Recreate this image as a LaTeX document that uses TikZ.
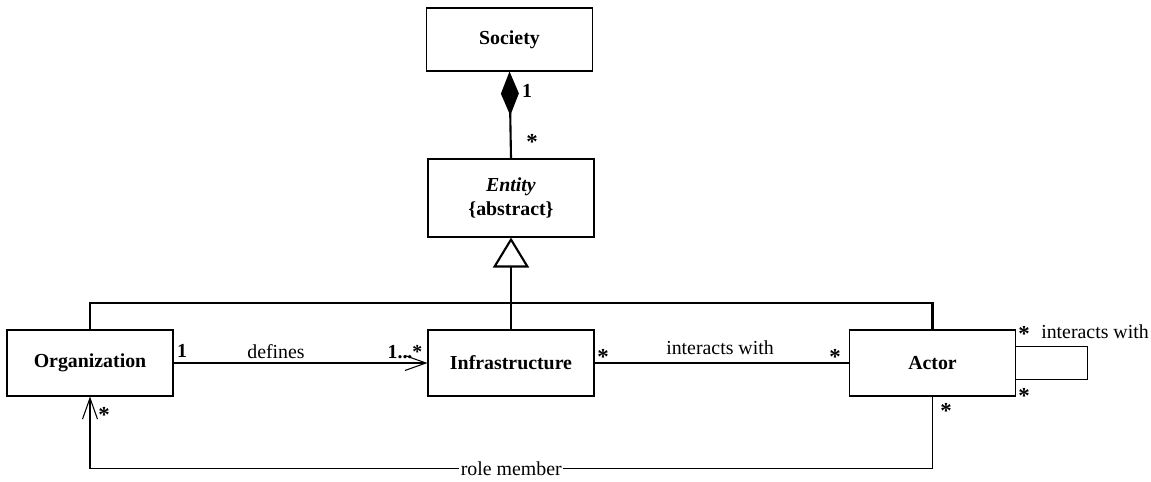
\documentclass[tikz,border=0pt]{standalone}
\usepackage{fontspec}
\setmainfont{LiberationSerif}[Extension=.ttf,UprightFont=*-Regular,BoldFont=*-Bold,ItalicFont=*-Italic,BoldItalicFont=*-BoldItalic]
\usetikzlibrary{arrows.meta}

\newcommand\umlsize{\fontsize{11.3}{14}\selectfont}
\tikzset{
  cls/.style={draw,line width=0.6pt,minimum width=3.32cm,minimum height=1.32cm,inner sep=0pt,font=\umlsize\bfseries},
  gen/.style={line width=1.2pt},
  assoc/.style={line width=0.6pt},
  mult/.style={font=\umlsize\bfseries,inner sep=0pt},
  lbl/.style={font=\umlsize,inner sep=1pt}
}

\begin{document}
\begin{tikzpicture}[x=0.02cm,y=-0.02cm]
      \useasboundingbox (0,0) rectangle (1151,481);

      \node[cls,minimum height=1.26cm] (society) at (509.5,39.5) {Society};
      \node[cls,minimum height=1.56cm,align=center] (entity) at (511,198) {\textit{Entity}\\\{abstract\}};
      \node[cls] (org) at (90,363) {Organization};
      \node[cls] (infra) at (511,363) {Infrastructure};
      \node[cls] (actor) at (932.5,363) {Actor};

      \draw[gen,-{Diamond[length=0.88cm,width=0.36cm]}] (entity.north) -- (society.south);
      \node[mult] (one1) at (527,91) {1};
      \node[mult,font=\fontsize{13}{13}\selectfont\bfseries] (many1) at (532,142) {*};

      \coordinate (bar) at (511,303);
      \draw[gen,-{Triangle[open,length=0.6cm,width=0.72cm]}] (infra.north) -- (entity.south);
      \draw[gen] (org.north) |- (bar) -| (actor.north);

      \draw[assoc,-{Straight Barb[length=0.42cm,width=0.3cm]}] (org) -- (infra);
      \node[mult] (one2) at (182,351) {1};
      \node[lbl] (defines) at (276,352) {defines};
      \node[mult] (many2) at (405,352) {1...*};

      \draw[assoc] (infra) -- (actor);
      \node[lbl] (inter) at (720,348) {interacts with};

      \draw[assoc] (actor.east) ++(0,-16.5) -- ++(71,0) -- ++(0,33) -- ++(-71,0);
      \node[lbl] (self) at (1095,332) {interacts with};

      \draw[assoc,-{Straight Barb[length=0.42cm,width=0.3cm]}] (actor.south) -- ++(0,72)
        -| node[pos=0.25,fill=white,lbl] (role) {role member} (org.south);

      \foreach \x/\y [count=\i] in {603/357,835/357,1024/334,1024/396,946/411,104/415}
        \node[mult,font=\fontsize{13}{13}\selectfont\bfseries] (star\i) at (\x,\y) {*};
    \end{tikzpicture}
\end{document}
